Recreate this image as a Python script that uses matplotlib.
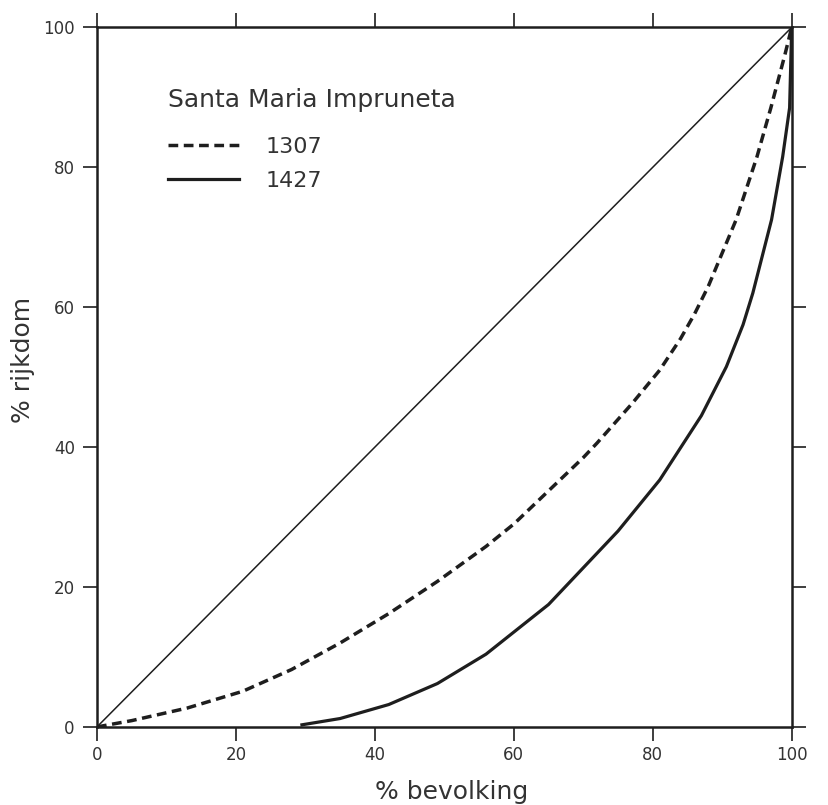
import matplotlib
matplotlib.use('Agg')
import matplotlib.pyplot as plt

# Lorenz-curves Santa Maria Impruneta
bevolking_1307 = [0, 5, 13, 21, 28, 35, 42, 49, 56, 60, 70, 72, 77, 81, 84, 86, 88, 92, 95, 97, 99, 100]
rijkdom_1307 = [0, 0.9, 2.7, 5.1, 8.2, 12.0, 16.2, 20.8, 25.8, 29.0, 38.5, 40.6, 46.2, 51.0, 55.5, 59.0, 63.0, 72.5, 81.5, 88.5, 96.0, 100]

bevolking_1427 = [29.5, 35, 42, 49, 56, 65, 75, 81, 87, 90.6, 93, 94.4, 97.1, 98.7, 99.7, 100]
rijkdom_1427 = [0.3, 1.2, 3.2, 6.2, 10.4, 17.5, 28.0, 35.3, 44.5, 51.5, 57.5, 62.0, 72.5, 81.5, 88.5, 100]

gelijk = [0, 100]
ticks = [0, 20, 40, 60, 80, 100]

plt.rcParams['font.family'] = ['DejaVu Sans']
ink = '#1e1e1e'
text_col = '#333333'

fig = plt.figure(figsize=(8.29, 8.05), dpi=100)
ax = fig.add_axes([0.117, 0.097, 0.838, 0.869])

ax.plot(gelijk, gelijk, color=ink, lw=1.1)
ax.plot(bevolking_1307, rijkdom_1307, color=ink, lw=2.5, ls=(0, (2.8, 1.6)), label='1307')
ax.plot(bevolking_1427, rijkdom_1427, color=ink, lw=2.3, label='1427')

ax.set_xlim(0, 100)
ax.set_ylim(0, 100)
ax.set_xticks(ticks)
ax.set_yticks(ticks)
ax.tick_params(direction='out', length=10, width=1.2, color=ink, labelsize=12,
               labelcolor=text_col, top=True, right=True)
ax.tick_params(axis='y', pad=6)
ax.tick_params(axis='x', pad=4)
for s in ax.spines.values():
    s.set_linewidth(1.8)
    s.set_color(ink)

ax.set_xlabel('% bevolking', fontsize=18, color=text_col)
ax.set_ylabel('% rijkdom', fontsize=18, color=text_col)
ax.xaxis.set_label_coords(0.511, -0.076)
ax.yaxis.set_label_coords(-0.089, 0.524)

# legenda: titel los, lijnen via legend
ax.text(0.102, 0.896, 'Santa Maria Impruneta', transform=ax.transAxes, fontsize=18,
        color=text_col, va='center', ha='left')
leg = ax.legend(loc='upper left', bbox_to_anchor=(0.102, 0.843), frameon=False,
                handlelength=3.2, fontsize=16, labelspacing=0.6, handletextpad=1.2,
                borderpad=0, borderaxespad=0)
for t in leg.get_texts():
    t.set_color(text_col)

fig.savefig('out.png', dpi=100, facecolor='white')
